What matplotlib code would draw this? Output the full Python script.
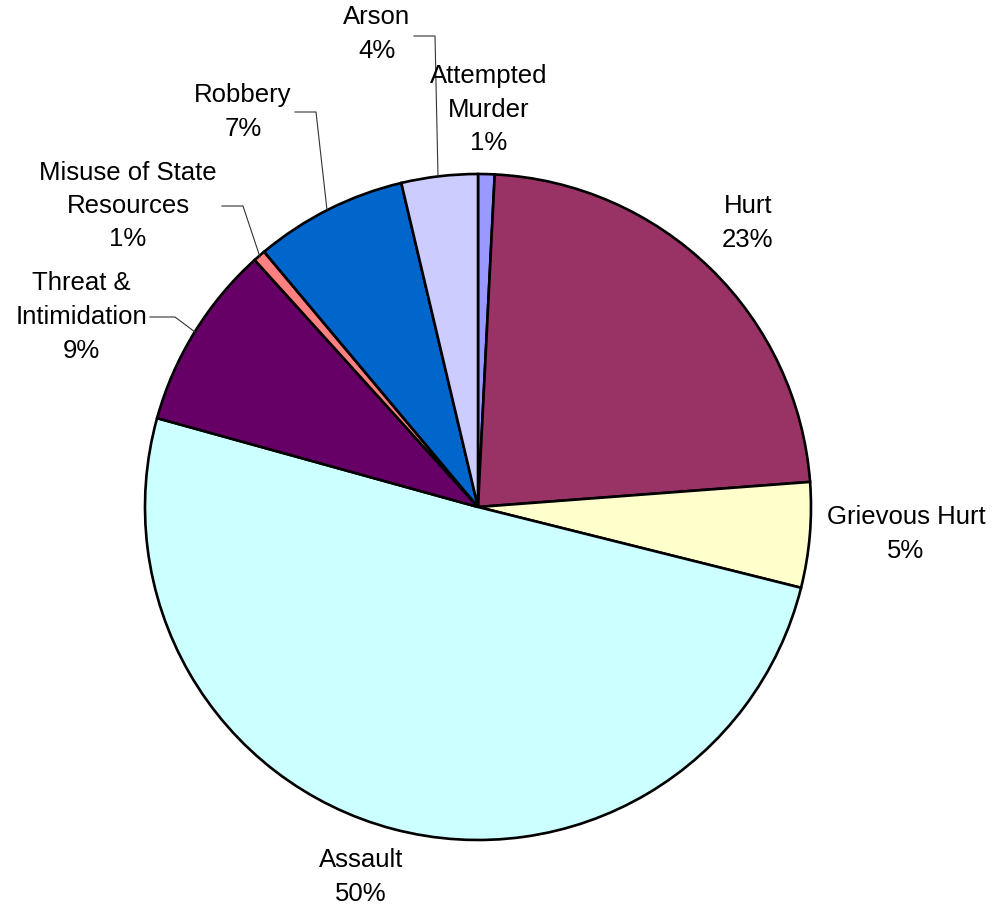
import matplotlib.pyplot as plt

plt.rcParams["font.family"] = ["Liberation Sans", "DejaVu Sans"]

# slices clockwise from 12 o'clock
categories = ["Attempted\nMurder", "Hurt", "Grievous Hurt", "Assault",
              "Threat &\nIntimidation", "Misuse of State\nResources",
              "Robbery", "Arson"]
shares = [0.8, 23.0, 5.1, 50.4, 9.0, 0.6, 7.4, 3.7]
pct_labels = ["1%", "23%", "5%", "50%", "9%", "1%", "7%", "4%"]
colors = ["#9999FF", "#993366", "#FFFFCC", "#CCFFFF",
          "#660066", "#FF8080", "#0066CC", "#CCCCFF"]

W, H = 992, 909
CX, CY, R = 478, 507, 333


def px(x, y):
    # pixel position -> data coords of the pie axes
    return (x - CX) / R, (CY - y) / R


fig = plt.figure(figsize=(W / 100, H / 100), dpi=100)
ax = fig.add_axes([0, 0, 1, 1])
ax.pie(shares, colors=colors, startangle=90, counterclock=False,
       wedgeprops=dict(edgecolor="black", linewidth=1.9))
ax.set_xlim(px(0, 0)[0], px(W, 0)[0])
ax.set_ylim(px(0, H)[1], px(0, 0)[1])
ax.set_aspect("auto")
ax.axis("off")

# label block centres (pixels)
label_pos = [(489, 110), (748, 223), (906, 534), (361, 877),
             (81, 317), (128, 206), (243, 112), (377, 34)]
for name, pct, (x, y) in zip(categories, pct_labels, label_pos):
    ax.text(*px(x, y), f"{name}\n{pct}", ha="center", va="center",
            fontsize=18.5, linespacing=1.5, color="black")

# leader lines
leaders = [
    [(414, 36), (435, 36), (438, 176)],
    [(295, 112), (316, 112), (327, 210)],
    [(222, 206), (243, 206), (260, 257)],
    [(150, 317), (175, 317), (195, 332)],
]
for pts in leaders:
    xs, ys = zip(*[px(a, b) for a, b in pts])
    ax.plot(xs, ys, color="#333333", lw=0.8)

fig.savefig("out.png", dpi=100)
